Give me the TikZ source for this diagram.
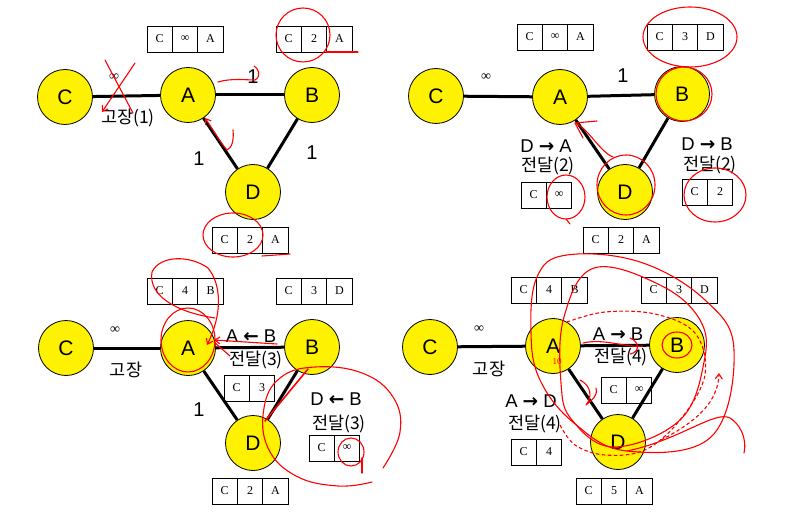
\documentclass[tikz,border=0pt]{standalone}
\usepackage{fontspec}
\setmainfont{Liberation Serif}
\newfontfamily\sansf{Liberation Sans}
\newfontfamily\krf{Noto Sans CJK KR}
\newfontfamily\arrf{DejaVu Sans}
\newcommand\ra{{\arrf\bfseries →}}
\newcommand\la{{\arrf\bfseries ←}}
\usetikzlibrary{arrows.meta}
\tikzset{
 router/.style={circle, draw, fill=yellow, line width=0.8pt, minimum size=55pt, inner sep=0pt, font=\sansf\fontsize{21}{21}\selectfont},
 link/.style={line width=3pt},
 cell/.style={draw, line width=0.8pt, minimum width=25.4pt, minimum height=26pt, inner sep=0pt, font=\fontsize{12}{12}\selectfont},
 wt/.style={font=\sansf\fontsize{20}{20}\selectfont, inner sep=0pt},
 inf/.style={font=\fontsize{14}{14}\selectfont, inner sep=0pt},
 msg/.style={font=\sansf\fontsize{18.5}{18.5}\selectfont, inner sep=0pt},
 kr/.style={font=\krf\fontsize{17.5}{17.5}\selectfont, inner sep=0pt},
 ink/.style={draw=red, line width=1.1pt, line cap=round, line join=round},
 inktip/.style={ink, -{Straight Barb[length=5pt,width=7pt]}},
}
\newcommand\tthree[6]{%
 \node[cell] (#1a) at ({#2+12.7},{#3+13}) {#4};
 \node[cell] (#1b) at ({#2+38.1},{#3+13}) {#5};
 \node[cell] (#1c) at ({#2+63.5},{#3+13}) {#6};}
\newcommand\ttwo[5]{%
 \node[cell] (#1a) at ({#2+12.7},{#3+13}) {#4};
 \node[cell] (#1b) at ({#2+38.1},{#3+13}) {#5};}
\begin{document}
\begin{tikzpicture}[x=1pt,y=-1pt]
\useasboundingbox (0,0) rectangle (794,521);
% ---------------- Q1 ----------------
\node[router] (c1) at (65,97) {C};
\node[router] (a1) at (188,95) {A};
\node[router] (b1) at (312,95) {B};
\node[router] (d1) at (253,192) {D};
\draw[link] (c1) -- (a1);
\draw[link] (a1) -- (b1);
\draw[link] (a1) -- (d1);
\draw[link] (b1) -- (d1);
\tthree{ta1}{147}{26}{C}{∞}{A}
\tthree{tb1}{276}{26}{C}{2}{A}
\tthree{td1}{212}{227}{C}{2}{A}
\node[inf] (i1) at (114,77) {∞};
\node[kr] (k1) at (128,118) {고장(1)};
\node[wt] (w1a) at (253,77) {1};
\node[wt] (w1b) at (199,159) {1};
\node[wt] (w1c) at (312,153) {1};
% ---------------- Q2 ----------------
\node[router] (c2) at (436,96) {C};
\node[router] (a2) at (560,97) {A};
\node[router] (b2) at (682,94) {B};
\node[router] (d2) at (625,192) {D};
\draw[link] (c2) -- (a2);
\draw[link] (a2) -- (b2);
\draw[link] (a2) -- (d2);
\draw[link] (b2) -- (d2);
\tthree{ta2}{517}{24}{C}{∞}{A}
\tthree{tb2}{647}{24}{C}{3}{D}
\tthree{td2}{583}{227}{C}{2}{A}
\ttwo{tm2}{521}{182}{C}{∞}
\ttwo{tn2}{682}{179}{C}{2}
\node[inf] (i2) at (486,77) {∞};
\node[wt] (w2) at (623,76) {1};
\node[msg] (m2a) at (546,146) {D \ra{} A};
\node[kr] (m2b) at (548,166) {전달(2)};
\node[msg] (m2c) at (707,144) {D \ra{} B};
\node[kr] (m2d) at (710,165) {전달(2)};
% ---------------- Q3 ----------------
\node[router] (c3) at (66,348) {C};
\node[router] (a3) at (188,348) {A};
\node[router] (b3) at (312,347) {B};
\node[router] (d3) at (253,443) {D};
\draw[link] (c3) -- (a3);
\draw[link] (a3) -- (b3);
\draw[link] (a3) -- (d3);
\draw[link] (b3) -- (d3);
\tthree{ta3}{147}{278}{C}{4}{B}
\tthree{tb3}{276}{278}{C}{3}{D}
\tthree{td3}{212}{478}{C}{2}{A}
\ttwo{tm3}{224}{375}{C}{3}
\ttwo{tn3}{309}{435}{C}{∞}
\node[inf] (i3) at (115,330) {∞};
\node[kr] (k3) at (126,370) {고장};
\node[wt] (w3) at (199,410) {1};
\node[msg] (m3a) at (251,336) {A \la{} B};
\node[kr] (m3b) at (256,360) {전달(3)};
\node[msg] (m3c) at (336,399) {D \la{} B};
\node[kr] (m3d) at (339,424) {전달(3)};
% ---------------- Q4 ----------------
\node[router] (c4) at (430,347) {C};
\node[router] (a4) at (553,346) {A};
\node[router] (b4) at (677,345) {B};
\node[router] (d4) at (618,442) {D};
\draw[link] (c4) -- (a4);
\draw[link] (a4) -- (b4);
\draw[link] (a4) -- (d4);
\draw[link] (b4) -- (d4);
\tthree{ta4}{511}{277}{C}{4}{B}
\tthree{tb4}{641}{277}{C}{3}{D}
\tthree{td4}{576}{478}{C}{5}{A}
\ttwo{tm4}{601}{377}{C}{∞}
\ttwo{tn4}{511}{439}{C}{4}
\node[inf] (i4) at (479,329) {∞};
\node[kr] (k4) at (489,369) {고장};
\node[msg] (m4a) at (618,334) {A \ra{} B};
\node[kr] (m4b) at (621,357) {전달(4)};
\node[msg] (m4c) at (531,401) {A \ra{} D};
\node[kr] (m4d) at (535,424) {전달(4)};
% ================= red annotations =================
% Q1
\draw[ink] (105,60) -- (133,113);
\draw[inktip] (135,63) -- (102,112);
\draw[ink] (218,82) .. controls (232,78) and (245,80) .. (255,80) .. controls (262,76) and (258,68) .. (254,66);
\draw[inktip] (233,130) .. controls (234,140) and (232,148) .. (227,150) .. controls (220,142) and (212,128) .. (205,118);
\draw[ink] (303,35) ellipse [x radius=27, y radius=27];
\draw[ink] (326,52) -- (358,52);
\draw[ink] (233,235) ellipse [x radius=30, y radius=22];
\draw[ink] (262,256) -- (290,254);
% Q2
\draw[ink] (690,37) ellipse [x radius=47, y radius=30];
\draw[ink] (684,94) ellipse [x radius=28, y radius=27];
\draw[ink] (626,185) ellipse [x radius=29, y radius=30];
\draw[ink] (613,157) .. controls (600,152) and (588,128) .. (575,123) -- (597,121);
\draw[ink] (575,123) -- (583,138);
\draw[ink] (566,197) ellipse [x radius=19, y radius=22];
\draw[ink] (566,219) -- (570,224);
\draw[ink] (715,195) ellipse [x radius=31, y radius=27];
% Q3
\draw[inktip] (208,268) .. controls (222,285) and (222,315) .. (207,345);
\draw[ink] (208,268) .. controls (190,255) and (160,255) .. (152,272) .. controls (148,295) and (175,312) .. (215,318);
\draw[ink] (188,340) ellipse [x radius=27, y radius=32];
\draw[inktip] (277,344) -- (214,340);
\draw[ink] (214,342) -- (230,356);
\draw[ink, line width=1.6pt] (308,369) -- (265,421);
\draw[ink] plot[smooth, tension=0.7] coordinates {(383,468) (400,432) (393,397) (362,373) (315,367) (280,378) (264,408) (268,448) (296,476) (338,486) (372,482)};
\draw[ink] (351,452) ellipse [x radius=13, y radius=14];
\draw[ink] (362,458) -- (362,473);
% Q4
\draw[ink] plot[smooth cycle, tension=0.65] coordinates {(567,255) (640,262) (705,300) (734,350) (711,437) (627,451) (574,423) (540,380) (531,333) (537,277)};
\draw[ink] plot[smooth cycle, tension=0.65] coordinates {(594,268) (660,285) (700,320) (704,362) (680,420) (614,447) (572,420) (561,383) (564,317)};
\draw[ink] (627,451) .. controls (680,440) and (715,410) .. (730,418) .. controls (745,428) and (746,445) .. (744,453);
\draw[ink, dashed] plot[smooth, tension=0.6] coordinates {(567,322) (605,312) (655,314) (695,333) (705,375) (680,420) (645,450) (605,455) (575,445) (560,425)};
\draw[ink, dashed, -{Straight Barb[length=5pt,width=7pt]}] (661,440) .. controls (700,420) and (718,400) .. (719,373);
\draw[ink] (677,345) ellipse [x radius=15, y radius=13];
\draw[ink] (583,343) .. controls (605,338) and (625,348) .. (643,346);
\draw[ink] (630,338) .. controls (640,342) and (640,352) .. (630,354);
\draw[ink] (580,380) .. controls (592,386) and (592,398) .. (586,405) .. controls (592,400) and (598,396) .. (596,388);
\node[text=red, font=\fontsize{9}{9}\selectfont, inner sep=0pt] (r10) at (557,362) {10};
\end{tikzpicture}
\end{document}
